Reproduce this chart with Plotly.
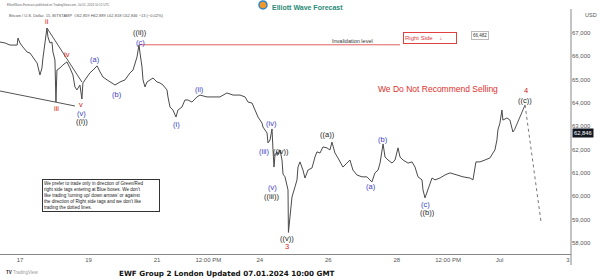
import pandas as pd
import plotly.graph_objects as go

T0 = pd.Timestamp("2024-06-17 00:00")

# hours since 2024-06-17 00:00 UTC and BTC/USD price (15m chart, traced)
hours = [-14, -10.5, -7, -2, -1.4, 0, 2, 5, 7, 9, 12, 14, 15.4, 16.1, 17.5, 18.9, 19.6, 21, 22.4, 23.1,
         24.5, 25.2, 25.9, 28, 30.1, 32.9, 35, 37.1, 38.5, 39.9, 42, 43.4, 44.1, 46.9, 49, 51.2, 54, 56.1,
         58.2, 61, 64.5, 66.6, 70.1, 73.6, 77.1, 79.2, 82, 83.4, 84.1, 85.5, 86.2, 87.6, 89, 91.1, 93.2,
         96, 98.1, 100.2, 103, 103.7, 105.1, 107.2, 109.3, 110.7, 113.5, 115.6, 117.7, 120.5, 124, 126.1,
         131, 135.2, 140.1, 145, 149.3, 154.2, 157.7, 159.8, 162.6, 164.7, 166.8, 169.6, 170.3, 173.1,
         173.8, 175.2, 176.6, 177.3, 178, 178.7, 180.1, 180.8, 182.2, 183.6, 184.3, 185.7, 187.1, 187.8,
         188.1, 189.2, 190.6, 192.7, 194.1, 194.8, 196.2, 198.3, 199.7, 201.8, 204.6, 206.7, 208.1, 210.2,
         212.3, 215.1, 217.2, 218.6, 220.7, 222.8, 226.3, 229.1, 231.2, 233.3, 236.1, 239.6, 243.1, 246.6,
         248.7, 250.9, 252.3, 254.4, 255.8, 257.9, 260.7, 262.8, 264.9, 266.3, 268.4, 271.9, 274.7, 276.8,
         278.9, 281.7, 282.4, 283.8, 285.9, 288.7, 290.8, 294.3, 297.8, 301.3, 306.2, 310.4, 315.3, 317.4,
         319.5, 322.3, 325.8, 329.3, 331.4, 332.8, 334.2, 334.9, 336.3, 337.7, 338.4, 341.2, 343.3, 345.4,
         346.5]
prices = [66600, 66560, 66470, 66470, 66770, 66560, 66390, 66170, 66130, 65960, 65700, 65190, 65490, 65920,
          66560, 67200, 66820, 66560, 66600, 66170, 65830, 64030, 65400, 65490, 65620, 65750, 65490, 65190,
          64680, 64550, 64760, 64160, 64850, 65100, 65280, 65400, 65580, 65320, 65100, 64980, 64850, 64760,
          64890, 64980, 65280, 65400, 65960, 66482, 66130, 65530, 64980, 64680, 64890, 64980, 65060, 64890,
          64850, 64760, 64550, 64250, 63820, 63690, 63390, 63690, 63820, 64120, 64120, 64030, 64250, 64330,
          64250, 64250, 64250, 64420, 64330, 64330, 64250, 64030, 63990, 63690, 63390, 63130, 62960, 62710,
          62280, 62410, 62880, 61980, 61250, 61770, 61900, 61770, 61980, 61550, 60950, 60830, 60530, 60270,
          58450, 59280, 59970, 60400, 60700, 61250, 61470, 61120, 60780, 61120, 61210, 61680, 61900, 61850,
          62110, 62070, 61980, 62320, 61850, 61640, 61250, 61420, 61550, 61120, 60910, 60830, 60830, 60610,
          61000, 61120, 61420, 62240, 61680, 61550, 61420, 61550, 62070, 61680, 61550, 61420, 61470, 61250,
          60830, 60700, 60270, 59930, 60270, 60780, 60700, 60780, 60910, 61000, 60910, 60830, 60780, 60700,
          61470, 61470, 61550, 61640, 61850, 61980, 62410, 62840, 63130, 63690, 63260, 63350, 63260, 62750,
          62846]

# projected path: ((c)) of 4 then decline
proj_hours = [346.5, 353.9]
proj_prices = [62846, 63906]
dot_hours = [353.9, 365.1]
dot_prices = [63906, 58900]

invalidation = 66482
inval_hours = [84.1, 266.3]
last_price = 62846

# wave labels: (hours, price, text, degree-colour key)
wave_labels = [
    (18.9, 67458, "ii", "r"), (25.9, 63777, "iii", "r"), (32.9, 66046, "iv", "r"),
    (42.7, 63906, "v", "r"), (43.4, 63563, "(v)", "b"), (43.4, 63178, "((i))", "k"),
    (52.6, 65832, "(a)", "b"), (68.0, 64334, "(b)", "b"), (84.1, 66580, "(c)", "b"),
    (84.1, 67010, "((ii))", "k"), (110.0, 63050, "(i)", "b"), (126.1, 64590, "(ii)", "b"),
    (175.9, 63135, "(iv)", "b"), (171.0, 61895, "(iii)", "b"), (182.9, 61895, "((iv))", "k"),
    (176.6, 60354, "(v)", "b"), (175.9, 59969, "((iii))", "k"), (187.1, 58213, "((v))", "k"),
    (187.1, 57828, "3", "r"), (215.8, 62664, "((a))", "k"), (245.9, 60396, "(a)", "b"),
    (254.4, 62450, "(b)", "b"), (283.8, 59626, "(c)", "b"), (285.2, 59284, "((b))", "k"),
    (354.6, 64520, "4", "r"), (353.9, 64077, "((c))", "k"),
]

tick_hours = [0, 48, 96, 132, 168, 216, 264, 300, 336, 384]
tick_text = ["17", "19", "21", "12:00 PM", "24", "26", "28", "12:00 PM", "Jul", "3"]
price_ticks = list(range(58000, 68000, 1000))


def t(h):
    return T0 + pd.to_timedelta(h, unit="h")


def tl(hs):
    return [t(h) for h in hs]


FONT = "Liberation Sans"
colors = {"r": "#d42020", "b": "#3a3ac8", "k": "#222222"}

fig = go.Figure()
fig.add_trace(go.Scatter(x=tl(hours), y=prices, mode="lines",
                         line=dict(color="#4a4a4a", width=1), hoverinfo="skip"))
fig.add_trace(go.Scatter(x=tl(proj_hours), y=proj_prices, mode="lines",
                         line=dict(color="#555555", width=1), hoverinfo="skip"))
fig.add_trace(go.Scatter(x=tl(dot_hours), y=dot_prices, mode="lines",
                         line=dict(color="#777777", width=1, dash="dot"), hoverinfo="skip"))
fig.add_trace(go.Scatter(x=tl(inval_hours), y=[invalidation, invalidation], mode="lines",
                         line=dict(color="#e06060", width=1), hoverinfo="skip"))
# trend lines of the wave ((i)) wedge
fig.add_trace(go.Scatter(x=tl([18.9, 43.4]), y=[67201, 64888], mode="lines",
                         line=dict(color="#555555", width=1), hoverinfo="skip"))
fig.add_trace(go.Scatter(x=tl([-14, 38.5]), y=[64505, 63863], mode="lines",
                         line=dict(color="#555555", width=1), hoverinfo="skip"))

ann = []
for h, p, txt, k in wave_labels:
    ann.append(dict(x=t(h), y=p, xref="x", yref="y", text=txt, showarrow=False,
                    font=dict(family=FONT, size=7.5, color=colors[k]), borderpad=0,
                    xanchor="center", yanchor="middle"))

ann += [
    dict(xref="paper", yref="paper", x=0.0088, y=1.016, text="ElliottWave-Forecast published on TradingView.com, Jul 01, 2024 10:12 UTC",
         showarrow=False, xanchor="left", yanchor="middle", font=dict(family=FONT, size=3, color="#666")),
    dict(xref="paper", yref="paper", x=0.012, y=0.9755,
         text="Bitcoin / U.S. Dollar, 15, BITSTAMP  O62,859 H62,889 L62,818 C62,846 −13 (−0.02%)",
         showarrow=False, xanchor="left", yanchor="middle", font=dict(family=FONT, size=4, color="#555")),
    dict(xref="paper", yref="paper", x=0.4728, y=1.008, text="<b>Elliott Wave Forecast</b>",
         showarrow=False, xanchor="left", yanchor="middle", font=dict(family=FONT, size=7, color="#2b8a76")),
    dict(xref="paper", yref="paper", x=0.6165, y=0.8694, text="Invalidation level", showarrow=False,
         xanchor="center", yanchor="middle", font=dict(family=FONT, size=5.5, color="#333")),
    dict(xref="paper", yref="paper", x=0.7531, y=0.8816, text="Right Side&nbsp;&nbsp;&nbsp;&nbsp;<b>↓</b>",
         showarrow=False, xanchor="center", yanchor="middle", width=50, height=8, align="left",
         bordercolor="#e04040", borderwidth=1, borderpad=1, bgcolor="white",
         font=dict(family=FONT, size=6, color="#e04040")),
    dict(xref="paper", yref="paper", x=0.8406, y=0.8898, text="66,482", showarrow=False,
         xanchor="center", yanchor="middle", bordercolor="#bbbbbb", borderwidth=1, borderpad=1,
         bgcolor="white", font=dict(family=FONT, size=4.5, color="#333")),
    dict(xref="paper", yref="paper", x=0.7671, y=0.6735, text="We Do Not Recommend Selling", showarrow=False,
         xanchor="center", yanchor="middle", font=dict(family=FONT, size=8.5, color="#e0302a")),
    dict(xref="paper", yref="paper", x=0.1769, y=0.2388,
         text="We prefer to trade only in direction of Green/Red<br>right side tags entering at Blue boxes. We don't<br>"
              "like trading 'turning up/ down arrows' or against<br>the direction of Right side tags and we don't like<br>"
              "trading the dotted lines.",
         showarrow=False, xanchor="center", yanchor="middle", align="left", width=114, height=29,
         bordercolor="#333", borderwidth=1, borderpad=1, bgcolor="white",
         font=dict(family=FONT, size=4.6, color="#222")),
    dict(xref="paper", yref="paper", x=1.021, y=0.9755, text="USD", showarrow=False, xanchor="left",
         yanchor="middle", font=dict(family=FONT, size=5.5, color="#555")),
    dict(xref="paper", yref="y", x=1.0, y=last_price, text="62,846", showarrow=False, xanchor="left",
         yanchor="middle", bgcolor="#131722", borderpad=1, xshift=1, yshift=-3,
         font=dict(family=FONT, size=5.8, color="white")),
    dict(xref="paper", yref="paper", x=0.3975, y=-0.078,
         text="<b>EWF Group 2 London Updated 07.01.2024 10:00 GMT</b>", showarrow=False,
         xanchor="center", yanchor="middle", font=dict(family="DejaVu Sans", size=7.2, color="#111")),
    dict(xref="paper", yref="paper", x=0.007, y=-0.075,
         text="<b>TV</b> <span style='color:#999'>TradingView</span>", showarrow=False,
         xanchor="left", yanchor="middle", font=dict(family=FONT, size=4.5, color="#222")),
]

shapes = [
    dict(type="line", xref="paper", yref="paper", x0=1, x1=1, y0=-0.045, y1=1.0,
         line=dict(color="#888", width=1)),
    dict(type="circle", xref="paper", yref="paper", x0=0.4536, x1=0.4676, y0=1.0, y1=1.033,
         fillcolor="#f0962a", line=dict(color="#2f86c8", width=1.5)),
]

fig.update_layout(
    width=600, height=280, autosize=False,
    margin=dict(l=0, r=29, t=9, b=26),
    paper_bgcolor="white", plot_bgcolor="white",
    showlegend=False,
    annotations=ann, shapes=shapes,
    xaxis=dict(range=[t(-14), t(386.1)], tickvals=tl(tick_hours), ticktext=tick_text,
               showgrid=False, zeroline=False, showline=True, linecolor="#888", linewidth=1,
               ticks="", tickfont=dict(family=FONT, size=6, color="#555")),
    yaxis=dict(range=[57528, 68014], side="right", tickvals=price_ticks, tickformat=",d",
               showgrid=False, zeroline=False, showline=False, ticks="",
               tickfont=dict(family=FONT, size=6, color="#555")),
)

fig.write_html("out.html")
